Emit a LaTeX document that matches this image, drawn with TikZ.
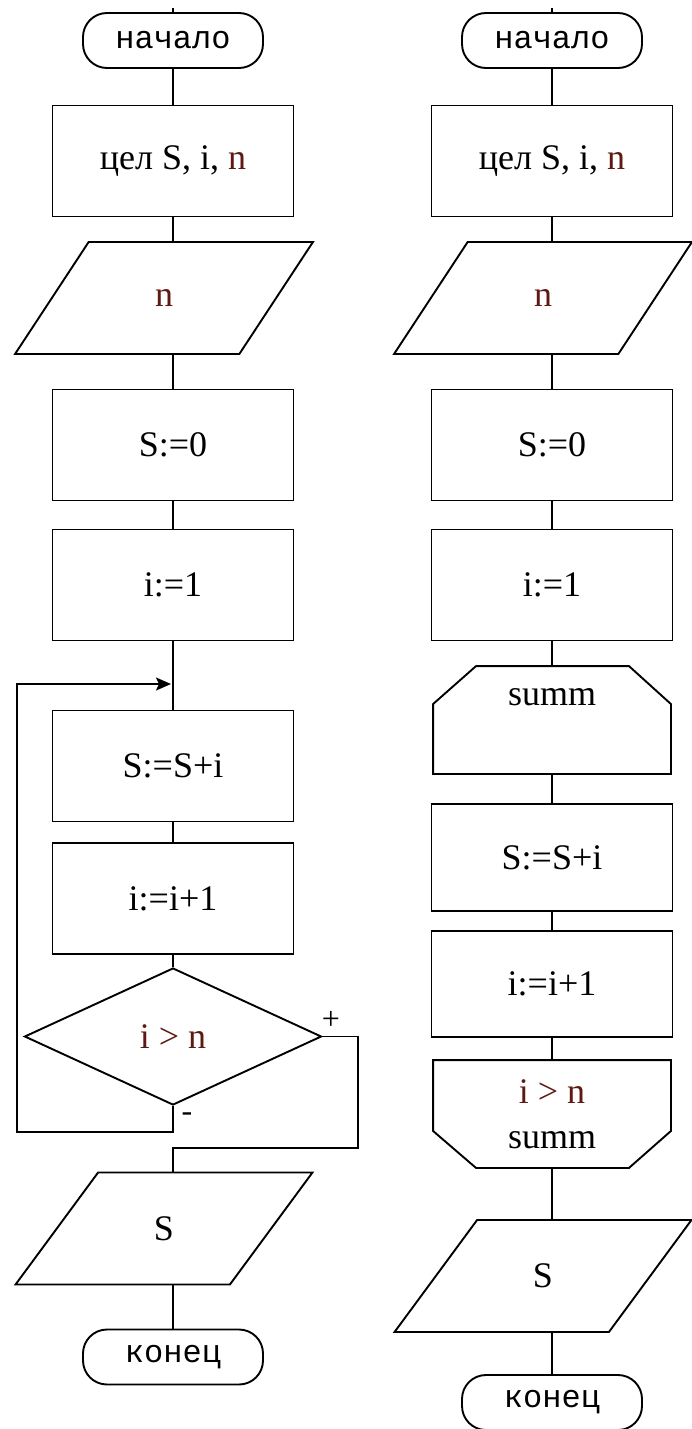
\documentclass[tikz,border=0pt]{standalone}
\usepackage{fontspec}
\setmainfont{Liberation Serif}
\newfontfamily\termfont{Liberation Mono}
\usepackage{xcolor}
\usepackage{tikz}
\usetikzlibrary{arrows.meta,shapes.geometric}

\definecolor{ink}{RGB}{95,25,20}

\begin{document}
\begin{tikzpicture}[
x=1pt,
y=1pt,
line width=1.9pt,
every node/.style={font=\fontsize{36}{45}\selectfont},
term/.style={rectangle,rounded corners=24pt,draw,minimum width=180pt,minimum height=55pt,inner sep=0pt,font=\termfont\fontsize{32}{36}\selectfont},
proc/.style={rectangle,draw,minimum width=241pt,minimum height=111pt,inner sep=0pt},
io/.style={trapezium,trapezium left angle=62.6,trapezium right angle=117.4,trapezium stretches=true,draw,minimum width=298pt,minimum height=112pt,inner sep=0pt},
test/.style={diamond,draw,minimum width=297pt,minimum height=137pt,inner sep=0pt},
loopbox/.style={rectangle,minimum width=236pt,minimum height=106pt,inner sep=0pt},
arr/.style={-{Stealth[length=15pt,width=13pt,inset=3pt]},shorten >=2pt},
lbl/.style={inner sep=0pt,font=\fontsize{32}{34}\selectfont}
]
\useasboundingbox (0,0) rectangle (692,-1429);

% left chart: loop with a test
\node[term] (start1) at (173,-40.5) {начало};
\node[proc] (decl1) at (173,-161) {цел S, i, \textcolor{ink}{n}};
\node[io] (in1) at (164,-298) {\textcolor{ink}{n}};
\node[proc] (zero1) at (173,-445) {S:=0};
\node[proc] (one1) at (173,-585) {i:=1};
\node[proc] (add1) at (173,-766) {S:=S+i};
\node[proc] (inc1) at (173,-898.5) {i:=i+1};
\node[test] (cond1) at (173,-1036.5) {\textcolor{ink}{i > n}};
\node[io] (out1) at (164,-1228.5) {S};
\node[term] (end1) at (173,-1357) {конец};
\node[lbl] (yes1) at (331,-1020) {+};
\node[lbl] (no1) at (187,-1117) {-};

\coordinate (top1) at (173,-8);
\coordinate (join1) at (173,-684);
\coordinate (back1) at (17,-1132);
\coordinate (plus1) at (358,-1148);

\draw (top1) -- (start1);
\draw (start1) -- (decl1);
\draw (decl1) -- (decl1 |- in1.north);
\draw (in1.south -| zero1) -- (zero1);
\draw (zero1) -- (one1);
\draw (one1) -- (add1);
\draw (add1) -- (inc1);
\draw (inc1) -- (cond1);
\draw[arr] (cond1.south) |- (back1) |- (join1);
\draw (cond1.east) -| (plus1) -| (cond1.south |- out1.north);
\draw (out1.south -| end1) -- (end1);

% right chart: loop block
\node[term] (start2) at (552,-40.5) {начало};
\node[proc] (decl2) at (552,-161) {цел S, i, \textcolor{ink}{n}};
\node[io] (in2) at (543,-298) {\textcolor{ink}{n}};
\node[proc] (zero2) at (552,-445) {S:=0};
\node[proc] (one2) at (552,-585) {i:=1};
\node[loopbox] (beg2) at (552,-720) {\raisebox{15pt}[0pt][0pt]{summ}};
\node[proc,minimum height=107pt] (add2) at (552,-857.5) {S:=S+i};
\node[proc,minimum height=106pt] (inc2) at (552,-984) {i:=i+1};
\node[loopbox,align=center] (fin2) at (552,-1114) {\textcolor{ink}{i > n}\\summ};
\node[io] (out2) at (543,-1276) {S};
\node[term] (end2) at (552,-1402.5) {конец};

\draw (beg2.south west) -- ([yshift=-38]beg2.north west) -- ([xshift=43]beg2.north west)
  -- ([xshift=-42]beg2.north east) -- ([yshift=-38]beg2.north east) -- (beg2.south east) -- cycle;
\draw (fin2.north west) -- (fin2.north east) -- ([yshift=37]fin2.south east)
  -- ([xshift=-42]fin2.south east) -- ([xshift=43]fin2.south west) -- ([yshift=37]fin2.south west) -- cycle;

\coordinate (top2) at (552,-8);

\draw (top2) -- (start2);
\draw (start2) -- (decl2);
\draw (decl2) -- (decl2 |- in2.north);
\draw (in2.south -| zero2) -- (zero2);
\draw (zero2) -- (one2);
\draw (one2) -- (beg2);
\draw (beg2) -- (add2);
\draw (add2) -- (inc2);
\draw (inc2) -- (fin2);
\draw (fin2) -- (fin2 |- out2.north);
\draw (out2.south -| end2) -- (end2);
\end{tikzpicture}
\end{document}
